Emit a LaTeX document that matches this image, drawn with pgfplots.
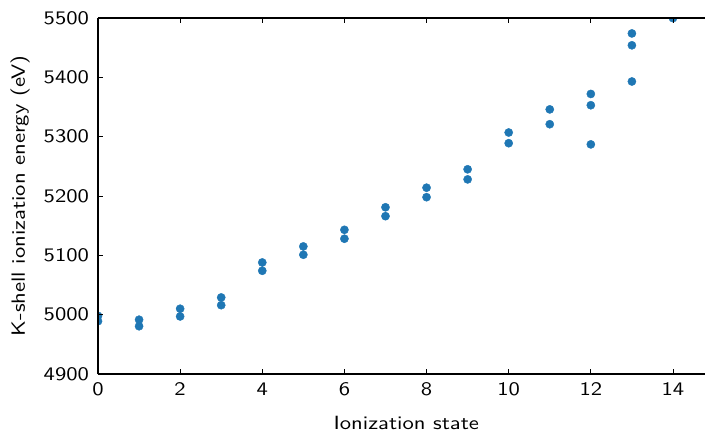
\documentclass[border=0pt]{standalone}
\usepackage{pgfplots}
\pgfplotsset{compat=1.18}
\usetikzlibrary{calc}
\renewcommand{\familydefault}{\sfdefault}
\definecolor{mplblue}{RGB}{31,119,180}
\newcommand{\bigtxt}[1]{\scalebox{2.27}[1.92]{#1}}
\begin{document}
\begin{tikzpicture}
\begin{axis}[
  name=ax,
  scale only axis,
  axis on top,
  width=607bp, height=356bp,
  xmin=0, xmax=14.78,
  ymin=4900, ymax=5500,
  axis x line=box,
  axis y line*=left,
  axis line style={line width=1.1pt, -},
  xtick={0,2,4,6,8,10,12,14},
  ytick={4900,5000,5100,5200,5300,5400,5500},
  tick align=inside,
  major tick length=5bp,
  every tick/.style={black, line width=0.9pt},
  xtick pos=both,
  /pgf/number format/assume math mode=true,
  /pgf/number format/1000 sep={},
  xticklabel={\bigtxt{\pgfmathprintnumber{\tick}}},
  yticklabel={\bigtxt{\pgfmathprintnumber{\tick}}},
  xlabel={\bigtxt{Ionization state}},
  ylabel={\bigtxt{K-shell ionization energy (eV)}},
  tick label style={font=\normalsize},
  xticklabel style={yshift=-5.3bp},
  yticklabel style={xshift=-5.5bp},
  every axis x label/.style={at={(axis description cs:0.508,0)}, anchor=base, yshift=-55bp, font=\normalsize},
  every axis y label/.style={at={(axis description cs:-0.1203,0.5)}, rotate=90, anchor=base, font=\normalsize},
  clip marker paths=true,
]
\addplot[only marks, mark=*, mark size=4.1bp, mplblue, mark options={draw=mplblue, fill=mplblue}] coordinates {
(0,4998) (0,4989)
(1,4991.5) (1,4980.5)
(2,5010) (2,4997)
(3,5029) (3,5016)
(4,5088) (4,5074)
(5,5115) (5,5101)
(6,5143) (6,5128)
(7,5181) (7,5166)
(8,5214) (8,5198)
(9,5245) (9,5228)
(10,5307) (10,5289)
(11,5346) (11,5321)
(12,5372) (12,5353) (12,5287)
(13,5474) (13,5454) (13,5393)
(14,5499.8)
};
\end{axis}
\pgfresetboundingbox
\path ($(ax.south west)+(-98bp,-58bp)$) rectangle ($(ax.north east)+(0bp,18bp)$);
\end{tikzpicture}
\end{document}
